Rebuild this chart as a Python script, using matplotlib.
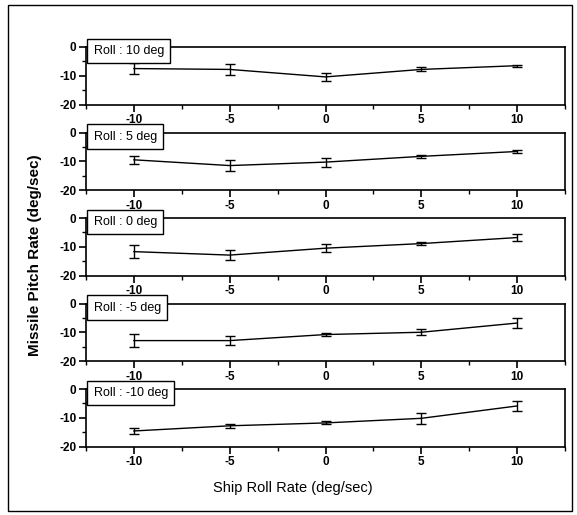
import matplotlib.pyplot as plt
from matplotlib.patches import Rectangle
from matplotlib.ticker import MultipleLocator

plt.rcParams['font.family'] = ['Liberation Sans', 'DejaVu Sans']
plt.rcParams['axes.unicode_minus'] = False

ship_roll_rate = [-10, -5, 0, 5, 10]
roll_labels = ['Roll : 10 deg', 'Roll : 5 deg', 'Roll : 0 deg', 'Roll : -5 deg', 'Roll : -10 deg']
pitch_mean = [
    [-7.5, -7.8, -10.4, -7.8, -6.5],
    [-9.5, -11.5, -10.3, -8.3, -6.6],
    [-11.7, -12.9, -10.5, -8.9, -6.8],
    [-12.9, -12.9, -10.8, -10.0, -6.8],
    [-14.6, -12.8, -11.8, -10.2, -5.9],
]
pitch_err = [
    [2.0, 1.8, 1.3, 0.7, 0.4],
    [1.4, 2.0, 1.6, 0.5, 0.4],
    [2.2, 1.75, 1.3, 0.5, 1.2],
    [2.2, 1.6, 0.6, 1.1, 1.6],
    [1.2, 0.6, 0.5, 1.9, 1.6],
]

W, H = 577, 515
fig = plt.figure(figsize=(W / 100, H / 100), dpi=100)

# outer frame
fig.patches.append(Rectangle((8 / W, 1 - 511 / H), 564 / W, 506 / H,
                             transform=fig.transFigure, fill=False,
                             edgecolor='black', linewidth=1))

left, right = 86, 565
ph = 57.5
for i in range(5):
    top = 47 + 85.5 * i
    ax = fig.add_axes([left / W, 1 - (top + ph) / H, (right - left) / W, ph / H])
    ax.errorbar(ship_roll_rate, pitch_mean[i], yerr=pitch_err[i], color='black',
                linewidth=1, elinewidth=1, capsize=3.5, capthick=1)
    ax.set_xlim(-12.5, 12.5)
    ax.set_ylim(-20, 0)
    ax.set_xticks(ship_roll_rate)
    ax.set_yticks([0, -10, -20])
    ax.xaxis.set_minor_locator(MultipleLocator(2.5))
    ax.yaxis.set_minor_locator(MultipleLocator(5))
    ax.tick_params(which='major', direction='out', length=5, width=1.2,
                   labelsize=8.5, pad=2)
    ax.tick_params(which='minor', direction='out', length=3, width=1)
    for lab in ax.get_xticklabels() + ax.get_yticklabels():
        lab.set_fontweight('bold')
    for s in ax.spines.values():
        s.set_linewidth(1.2)
    ax.text(0.016, 0.93, roll_labels[i], transform=ax.transAxes, fontsize=9,
            ha='left', va='center', zorder=10, clip_on=False,
            bbox=dict(boxstyle='square,pad=0.5', facecolor='white',
                      edgecolor='black', linewidth=1))

fig.text(35 / W, 1 - 255 / H, 'Missile Pitch Rate (deg/sec)', rotation=90,
         ha='center', va='center', fontsize=11, fontweight='bold')
fig.text(293 / W, 1 - 488 / H, 'Ship Roll Rate (deg/sec)',
         ha='center', va='center', fontsize=10.5)

fig.savefig('out.png', dpi=100)
